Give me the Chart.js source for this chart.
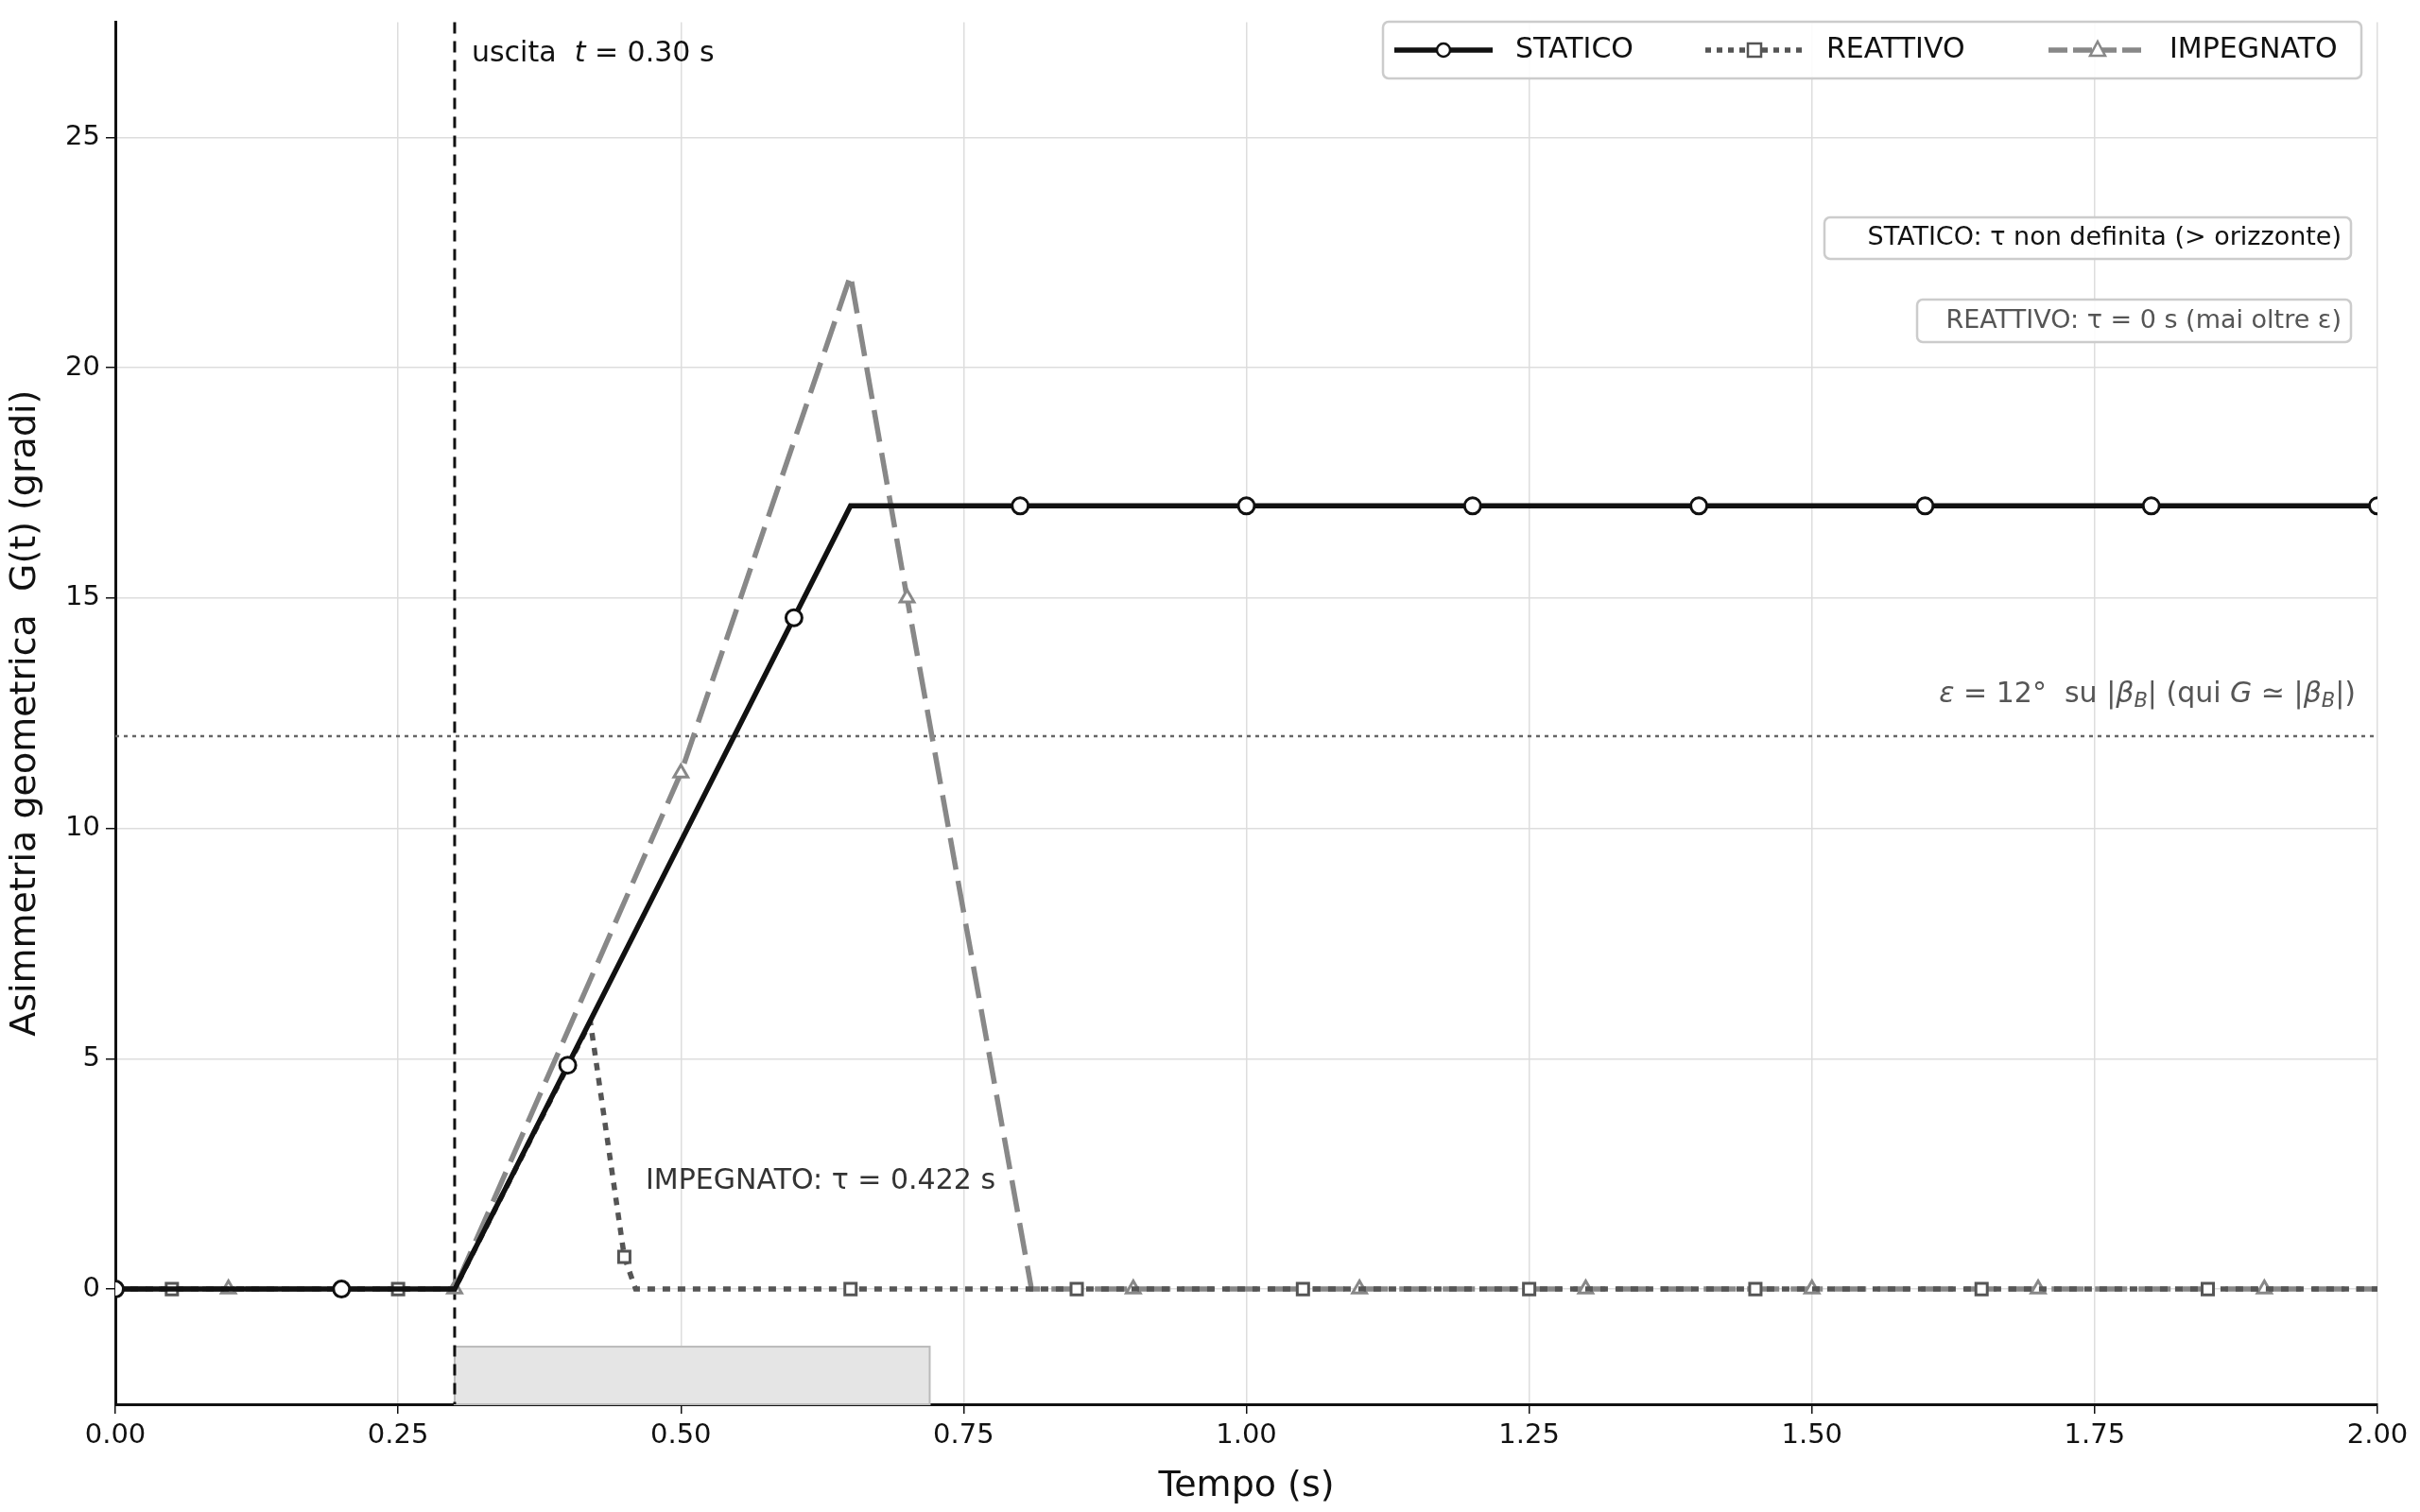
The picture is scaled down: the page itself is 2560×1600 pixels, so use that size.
<!DOCTYPE html>
<html><head><meta charset="utf-8">
<script src="https://cdn.jsdelivr.net/npm/chart.js@4.4.1/dist/chart.umd.min.js"></script>
<style>html,body{margin:0;padding:0;background:#fff}#w{width:2560px;height:1600px}</style>
</head><body><div id="w"><canvas id="c" width="2560" height="1600"></canvas></div>
<script>
const xTicks=[0,0.25,0.5,0.75,1,1.25,1.5,1.75,2];
const yTicks=[0,5,10,15,20,25];
const staticoT=[0,0.2,0.3,0.4,0.6,0.65,0.8,1.0,1.2,1.4,1.6,1.8,2.0];
const staticoG=[0,0,0,4.86,14.57,17,17,17,17,17,17,17,17];
const staticoMark=[1,1,0,1,1,0,1,1,1,1,1,1,1];
const reattT=[0,0.05,0.25,0.3,0.42,0.45,0.46,0.65,0.85,1.05,1.25,1.45,1.65,1.85,2.0];
const reattG=[0,0,0,0,5.8,0.7,0,0,0,0,0,0,0,0,0];
const reattMark=[0,1,1,0,0,1,0,1,1,1,1,1,1,1,0];
const impT=[0,0.1,0.3,0.5,0.65,0.7,0.81,0.9,1.1,1.3,1.5,1.7,1.9,2.0];
const impG=[0,0,0,11.2,22,15,0,0,0,0,0,0,0,0];
const impMark=[0,1,1,1,0,1,0,1,1,1,1,1,1,0];
const exitT=0.30, epsilon=12, bandX=[0.30,0.72], bandY=[-2.5,-1.25];
const F='"DejaVu Sans", sans-serif';
function pts(t,g){return t.map((v,i)=>({x:v,y:g[i]}));}
const series=[
 {label:'STATICO',t:staticoT,g:staticoG,m:staticoMark,color:'#111',dash:[],style:'circle'},
 {label:'REATTIVO',t:reattT,g:reattG,m:reattMark,color:'#555',dash:[8,8],style:'rect'},
 {label:'IMPEGNATO',t:impT,g:impG,m:impMark,color:'#888',dash:[34,12],style:'triangle'}];
const ds=series.map(s=>({label:s.label,data:pts(s.t,s.g),borderColor:s.color,borderWidth:5.5,borderDash:s.dash,
 pointRadius:s.m.map(v=>v?8.5:0),pointStyle:s.style,pointBackgroundColor:'#fff',pointBorderColor:s.color,pointBorderWidth:3,tension:0}));
function box(ctx,x1,y1,x2,y2){ctx.beginPath();ctx.roundRect(x1,y1,x2-x1,y2-y1,6);ctx.fillStyle='rgba(255,255,255,0.9)';ctx.fill();ctx.strokeStyle='#ccc';ctx.lineWidth=2.5;ctx.stroke();}
// draw runs of [text, font] left to right starting at x; returns end x
function runs(c,parts,x,y){parts.forEach(p=>{c.font=p[1];c.fillText(p[0],x,y+(p[2]||0));x+=c.measureText(p[0]).width;});return x;}
function runsW(c,parts){let w=0;parts.forEach(p=>{c.font=p[1];w+=c.measureText(p[0]).width;});return w;}
const deco={id:'deco',
 beforeDatasetsDraw(ch){const c=ch.ctx,x=ch.scales.x,y=ch.scales.y,a=ch.chartArea;c.save();
  c.fillStyle='#e5e5e5';c.strokeStyle='#bbb';c.lineWidth=2;
  const rx=x.getPixelForValue(bandX[0]),rw=x.getPixelForValue(bandX[1])-rx,ry=y.getPixelForValue(bandY[1]),rh=y.getPixelForValue(bandY[0])-ry;
  c.fillRect(rx,ry,rw,rh);c.strokeRect(rx,ry,rw,rh);
  c.setLineDash([4,5]);c.strokeStyle='#666';c.lineWidth=2.5;c.beginPath();const ey=y.getPixelForValue(epsilon);c.moveTo(a.left,ey);c.lineTo(a.right,ey);c.stroke();
  c.setLineDash([12,8]);c.strokeStyle='#111';c.lineWidth=3;c.beginPath();const vx=x.getPixelForValue(exitT);c.moveTo(vx,a.top);c.lineTo(vx,a.bottom);c.stroke();
  c.restore();},
 afterDatasetsDraw(ch){const c=ch.ctx,x=ch.scales.x,y=ch.scales.y;c.save();
  const N='30px '+F,I='italic 30px '+F,S='italic 21px '+F;
  c.textBaseline='middle';c.textAlign='left';c.fillStyle='#111';
  runs(c,[['uscita  ',N],['t',I],[' = 0.30 s',N]],x.getPixelForValue(exitT)+18,57);
  c.fillStyle='#333';runs(c,[['IMPEGNATO: τ = 0.422 s',N]],683,1250);
  c.fillStyle='#555';
  const ep=[['ε',I],[' = 12°  su |',N],['β',I],['B',S,8],['| (qui ',N],['G',I],[' ≃ |',N],['β',I],['B',S,8],['|)',N]];
  runs(c,ep,2492-runsW(c,ep),735);
  c.font='27px '+F;
  box(c,1930,230,2487,274);c.fillStyle='#111';c.textAlign='right';c.fillText('STATICO: τ non definita (> orizzonte)',2477,252);
  box(c,2028,317,2487,362);c.fillStyle='#555';c.fillText('REATTIVO: τ = 0 s (mai oltre ε)',2477,340);
  box(c,1463,23,2498,83);c.textAlign='left';c.font='30px '+F;
  const lx=[1475,1804,2167];
  series.forEach((s,i)=>{const x0=lx[i],yy=53;c.strokeStyle=s.color;c.lineWidth=5.5;c.setLineDash(s.dash.length?(i==1?[6,6]:[20,6]):[]);
   c.beginPath();c.moveTo(x0,yy);c.lineTo(x0+104,yy);c.stroke();c.setLineDash([]);
   c.fillStyle='#fff';c.lineWidth=2.5;c.beginPath();const mx=x0+52;
   if(s.style=='circle')c.arc(mx,yy,7,0,Math.PI*2);else if(s.style=='rect')c.rect(mx-7,yy-7,14,14);else{c.moveTo(mx,yy-9);c.lineTo(mx+8,yy+6);c.lineTo(mx-8,yy+6);c.closePath();}
   c.fill();c.stroke();c.fillStyle='#111';c.fillText(s.label,x0+128,yy);});
  c.restore();}};
new Chart(document.getElementById('c'),{type:'line',data:{datasets:ds},plugins:[deco],
 options:{responsive:false,animation:false,devicePixelRatio:1,
  layout:{padding:{left:0,right:45,top:-5,bottom:0}},
  plugins:{legend:{display:false},tooltip:{enabled:false}},
  scales:{
   x:{type:'linear',min:0,max:2,afterBuildTicks:s=>{s.ticks=xTicks.map(v=>({value:v}));},afterFit:s=>{s.height=114;},
    grid:{color:'#ddd',lineWidth:1.5,tickColor:'#111',tickLength:10},border:{color:'#111',width:3},
    ticks:{color:'#111',font:{family:F,size:29},callback:v=>v.toFixed(2),maxRotation:0,padding:6},
    title:{display:true,text:'Tempo (s)',color:'#111',font:{family:F,size:38},padding:{top:4}}},
   y:{type:'linear',min:-2.5,max:27.5,afterBuildTicks:s=>{s.ticks=yTicks.map(v=>({value:v}));},afterFit:s=>{s.width=122;},
    grid:{color:'#ddd',lineWidth:1.5,tickColor:'#111',tickLength:10},border:{color:'#111',width:3},
    ticks:{color:'#111',font:{family:F,size:29},padding:6},
    title:{display:true,text:'Asimmetria geometrica  G(t) (gradi)',color:'#111',font:{family:F,size:38},padding:{bottom:4}}}}}});
</script></body></html>
